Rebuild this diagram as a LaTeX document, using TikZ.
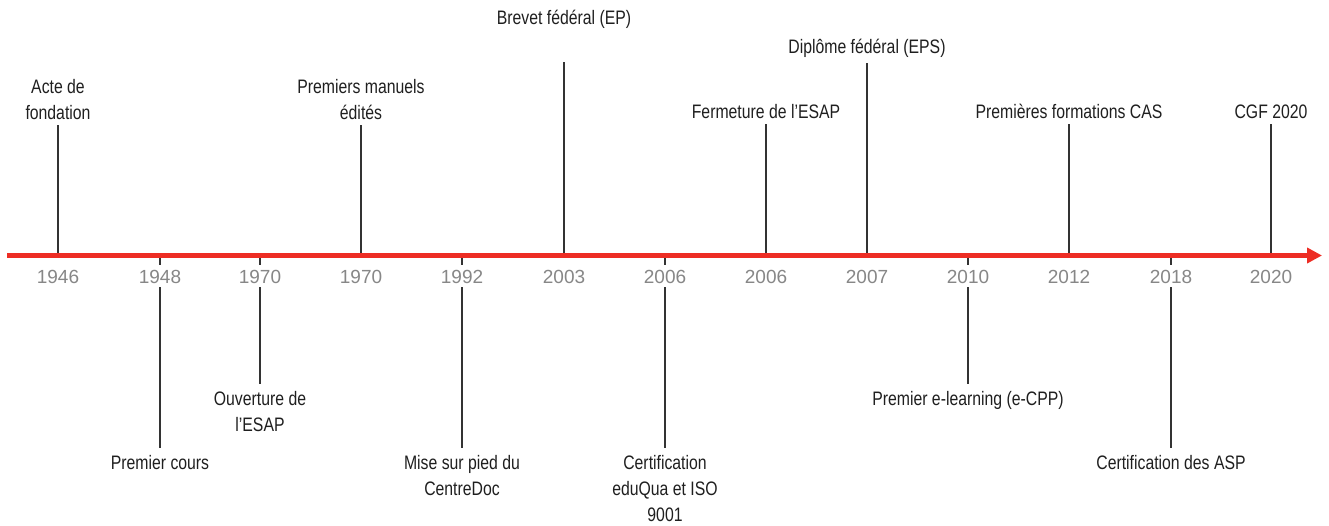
\documentclass[tikz,border=0pt]{standalone}
\usepackage{fontspec}
\setmainfont{Liberation Sans}
\newfontfamily\condfont[FakeStretch=0.81]{Liberation Sans}
\usetikzlibrary{arrows.meta}
\definecolor{axisred}{RGB}{237,45,36}
\definecolor{tickgray}{RGB}{51,51,51}
\definecolor{yeargray}{RGB}{135,135,135}
\begin{document}
\begin{tikzpicture}[x=1pt,y=-1pt,inner sep=0pt,outer sep=0pt,
event/.style={align=center,inner sep=2pt,font=\condfont\fontsize{19.5}{26}\selectfont,text=black!88},
upevent/.style={event,anchor=south,outer sep=3pt},
downevent/.style={event,anchor=north,outer sep=5pt},
tick/.style={draw=tickgray,line width=1.6pt},
yearlbl/.style={fill=white,minimum height=22pt,inner xsep=3pt,font=\fontsize{19}{22}\selectfont,text=yeargray}]
\useasboundingbox (0,0) rectangle (1329,526);
% points on the axis
\foreach \x/\n in {58/a1,160/a2,260/a3,361/a4,462/a5,564/a6,665/a7,766/a8,867/a9,968/a10,1069/a11,1171/a12,1271/a13}
  \coordinate (\n) at (\x,255.5);
% events above
\node[upevent] (acte) at (58,125) {Acte de\\fondation};
\node[upevent] (manuels) at (361,125) {Premiers manuels\\édités};
\node[upevent] (brevet) at (564,34) {Brevet fédéral (EP)};
\node[upevent] (fermeture) at (766,124) {Fermeture de l’ESAP};
\node[upevent] (diplome) at (867,63) {Diplôme fédéral (EPS)};
\node[upevent] (cas) at (1069,124) {Premières formations CAS};
\node[upevent] (cgf) at (1271,124) {CGF 2020};
% events below
\node[downevent] (cours) at (160,448) {Premier cours};
\node[downevent] (ouverture) at (260,384) {Ouverture de\\l’ESAP};
\node[downevent] (centredoc) at (462,448) {Mise sur pied du\\CentreDoc};
\node[downevent] (eduqua) at (665,448) {Certification\\eduQua et ISO\\9001};
\node[downevent] (elearning) at (968,384) {Premier e-learning (e-CPP)};
\node[downevent] (asp) at (1171,448) {Certification des ASP};
\draw[tick] (a1) -- (acte);
\draw[tick] (a4) -- (manuels);
\draw[tick,shorten >=28pt] (a6) -- (brevet);
\draw[tick] (a8) -- (fermeture);
\draw[tick] (a9) -- (diplome);
\draw[tick] (a11) -- (cas);
\draw[tick] (a13) -- (cgf);
\draw[tick] (a2) -- (cours);
\draw[tick] (a3) -- (ouverture);
\draw[tick] (a5) -- (centredoc);
\draw[tick] (a7) -- (eduqua);
\draw[tick] (a10) -- (elearning);
\draw[tick] (a12) -- (asp);
% axis
\coordinate (start) at (7,255.5);
\coordinate (tip) at (1322,255.5);
\draw[axisred,line width=5pt,-{Triangle[length=15pt,width=15pt]}] (start) -- (tip);
% years
\foreach \n/\yr in {a1/1946,a2/1948,a3/1970,a4/1970,a5/1992,a6/2003,a7/2006,a8/2006,a9/2007,a10/2010,a11/2012,a12/2018,a13/2020}
  \node[yearlbl] (y\n) at ([yshift=-21pt]\n) {\yr};
\end{tikzpicture}
\end{document}
